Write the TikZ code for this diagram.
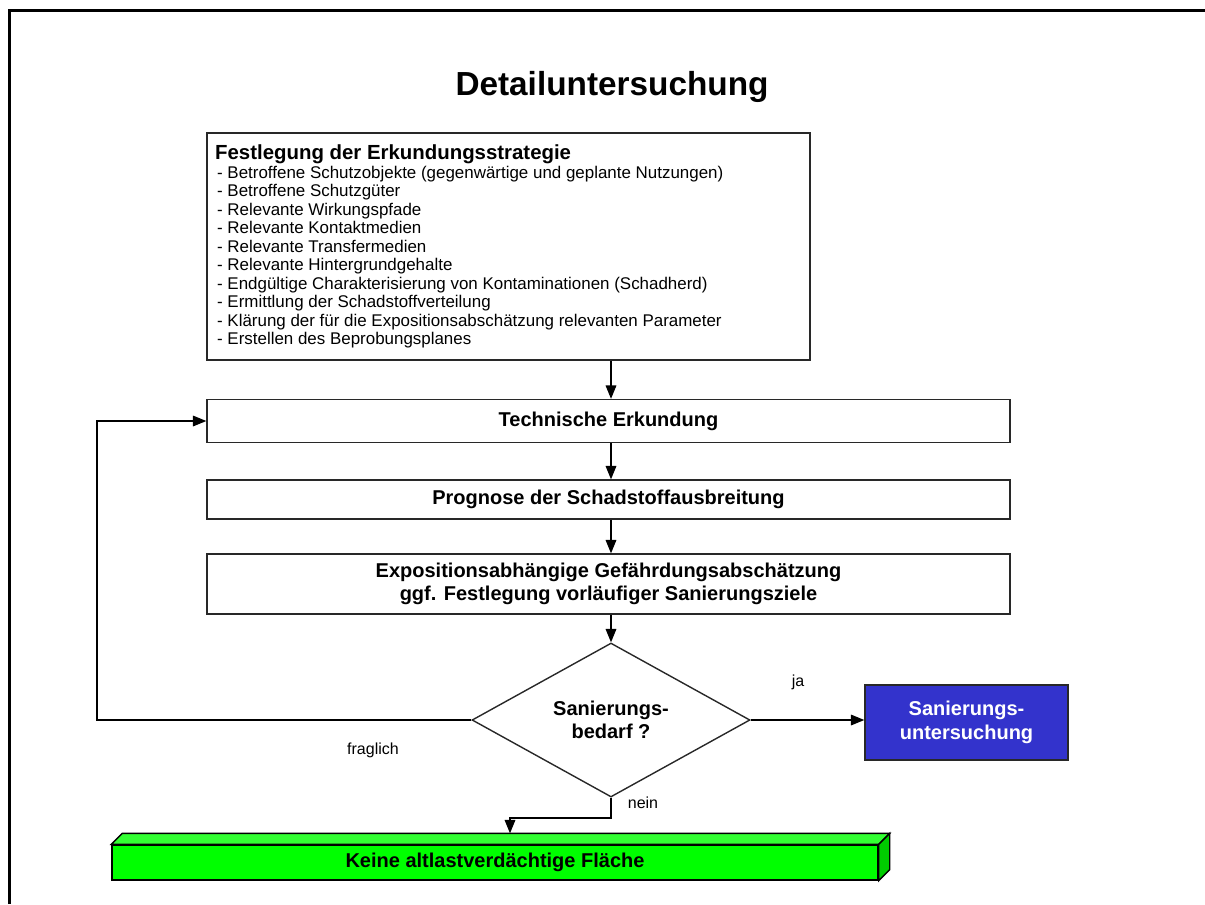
\documentclass[tikz,border=0pt]{standalone}
\usepackage{fontspec}
\setmainfont{Liberation Sans}
\usetikzlibrary{shapes.geometric,arrows.meta,calc}
\definecolor{bluebox}{RGB}{51,51,204}
\definecolor{gfront}{RGB}{0,255,0}
\definecolor{gtop}{RGB}{51,255,51}
\definecolor{gside}{RGB}{0,204,0}
\definecolor{edge}{RGB}{40,40,40}
\newcommand\listline[1]{\hbox{\vrule width0pt height10pt depth3.85pt\smash{\hspace*{1.5pt}- #1}}}
\tikzset{
  box/.style={draw=edge,line width=1.05pt,rectangle,inner sep=0pt,align=center,
    font=\fontsize{15}{17.5}\selectfont\bfseries},
  arr/.style={line width=0.8pt,-{Triangle[length=10pt,width=8pt]}},
  lbl/.style={font=\fontsize{12}{14}\selectfont,inner sep=0pt}
}
\begin{document}
\begin{tikzpicture}[x=0.75pt,y=-0.75pt]
\useasboundingbox (0,0) rectangle (1205,904);
% outer frame
\draw[line width=2.25pt] (9,904) -- (9,10) -- (1210,10);
% title
\node[inner sep=0pt,font=\fontsize{25}{30}\selectfont\bfseries] (title) at (612,87) {Detailuntersuchung};
% box 1
\node[draw=edge,line width=1.05pt,rectangle,minimum width=452.25pt,minimum height=170.25pt,
  inner xsep=6pt,inner ysep=0pt] (b1) at (508.5,246.5)
{\vbox{\offinterlineskip
\hbox to 440pt{}
\hbox{\vrule width0pt height12pt depth4.25pt\smash{\fontsize{15.3}{16}\selectfont\bfseries Festlegung der Erkundungsstrategie}}
\fontsize{12.7}{13.85}\selectfont
\listline{Betroffene Schutzobjekte (gegenwärtige und geplante Nutzungen)}
\listline{Betroffene Schutzgüter}
\listline{Relevante Wirkungspfade}
\listline{Relevante Kontaktmedien}
\listline{Relevante Transfermedien}
\listline{Relevante Hintergrundgehalte}
\listline{Endgültige Charakterisierung von Kontaminationen (Schadherd)}
\listline{Ermittlung der Schadstoffverteilung}
\listline{Klärung der für die Expositionsabschätzung relevanten Parameter}
\listline{Erstellen des Beprobungsplanes}}};
% boxes
\node[box,minimum width=602.25pt,minimum height=32.25pt] (b2) at (608.5,421) {Technische Erkundung};
\node[box,minimum width=602.25pt,minimum height=29.25pt] (b3) at (608.5,499.5) {Prognose der Schadstoffausbreitung};
\node[box,minimum width=602.25pt,minimum height=45pt] (b4) at (608.5,584) {Expositionsabhängige Gefährdungsabschätzung\\ggf. Festlegung vorläufiger Sanierungsziele};
% diamond
\node[draw=edge,line width=1.05pt,diamond,minimum width=208.5pt,minimum height=115.5pt,inner sep=0pt,
  align=center,font=\fontsize{15}{17.5}\selectfont\bfseries] (dia) at (611,720) {Sanierungs-\\bedarf ?};
% blue box
\node[box,fill=bluebox,text=white,minimum width=152.25pt,minimum height=56.25pt] (blue) at (966.5,722.5) {Sanierungs-\\untersuchung};
% green 3D box
\node[box,draw=black,fill=gfront,minimum width=574.5pt,minimum height=26.25pt] (green) at (495,862.5) {Keine altlastverdächtige Fläche};
\draw[line width=1.05pt,fill=gtop] (green.north west) -- ++(11,-11) -- ($(green.north east)+(11,-11)$) -- (green.north east) -- cycle;
\draw[line width=1.05pt,fill=gside] (green.north east) -- ++(11,-11) -- ($(green.south east)+(11,-11)$) -- (green.south east) -- cycle;
\coordinate (gt) at ($(green.north)+(0,-11)$);
% connectors
\draw[arr] (b1.south -| dia.north) -- (b2.north -| dia.north);
\draw[arr] (b2.south -| dia.north) -- (b3.north -| dia.north);
\draw[arr] (b3.south -| dia.north) -- (b4.north -| dia.north);
\draw[arr] (b4.south -| dia.north) -- (dia.north);
\draw[arr] (dia.east) -- (dia.east -| blue.west);
\coordinate (fl) at (97,720);
\draw[arr] (dia.west) -- (fl) |- (b2.west);
\coordinate (nb) at (510,818);
\draw[arr] (dia.south) |- (nb) -- (nb |- gt);
% labels
\node[lbl] (lja) at (798,682) {ja};
\node[lbl] (lfr) at (373,750) {fraglich};
\node[lbl] (lne) at (643,803) {nein};
\end{tikzpicture}
\end{document}
